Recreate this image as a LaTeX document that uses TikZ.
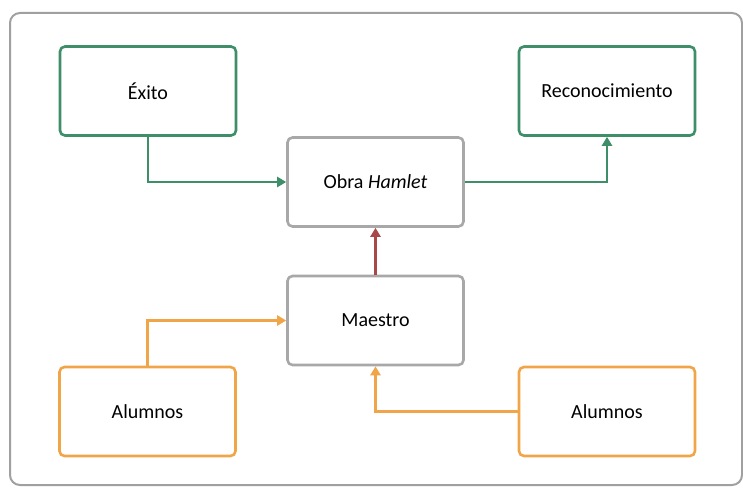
\documentclass[tikz,border=0pt]{standalone}
\usepackage{fontspec}
\setmainfont{Carlito}
\usetikzlibrary{arrows.meta}
\definecolor{greenline}{RGB}{62,142,106}
\definecolor{orangeline}{RGB}{240,166,72}
\definecolor{redline}{RGB}{168,72,72}
\definecolor{boxgray}{RGB}{168,168,168}
\definecolor{framegray}{RGB}{160,160,160}
\begin{document}
\begin{tikzpicture}[x=1pt,y=-1pt,
  box/.style={draw, line width=2.6pt, rounded corners=5pt, fill=white,
    minimum width=176pt, minimum height=89pt, inner sep=0pt,
    font=\fontsize{20}{24}\selectfont},
  greenbox/.style={box, draw=greenline},
  orangebox/.style={box, draw=orangeline},
  graybox/.style={box, draw=boxgray},
  link/.style={line width=2.6pt, -{Triangle[length=9pt,width=10pt]}},
]
\useasboundingbox (0,0) rectangle (743,487);
% outer frame
\draw[framegray, line width=2pt, rounded corners=10pt] (10,13) rectangle (742,485);

% boxes
\node[greenbox]  (exito) at (148,91)    {Éxito};
\node[greenbox]  (reco)  at (607,91)    {Reconocimiento};
\node[graybox]   (obra)  at (375.5,182) {Obra \textit{Hamlet}};
\node[graybox]   (maestro) at (375.5,320.5) {Maestro};
\node[orangebox] (alumL) at (147.5,411.5) {Alumnos};
\node[orangebox] (alumR) at (607,411.5) {Alumnos};

% connectors
\draw[link, greenline] (exito.south) |- (obra.west);
\draw[link, greenline] (obra.east) -| (reco.south);
\draw[link, redline] (maestro.north) -- (obra.south);
\draw[link, orangeline] (alumL.north) |- (maestro.west);
\draw[link, orangeline] (alumR.west) -| (maestro.south);
\end{tikzpicture}
\end{document}
